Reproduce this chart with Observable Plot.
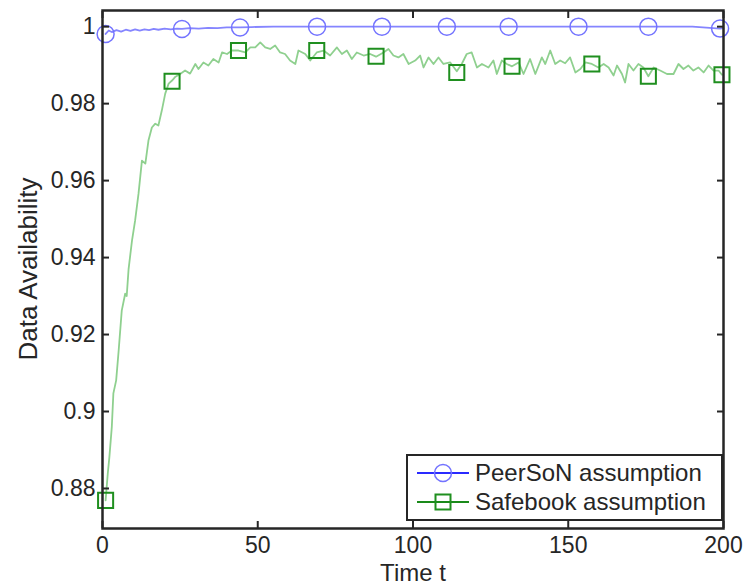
<!DOCTYPE html>
<html>
<head>
<meta charset="utf-8">
<script src="https://cdn.jsdelivr.net/npm/d3@7"></script>
<script src="https://cdn.jsdelivr.net/npm/@observablehq/plot@0.6"></script>
<style>
  html, body { margin: 0; padding: 0; background: #fff; }
  #chart { width: 744px; height: 587px; }
</style>
</head>
<body>
<div id="chart"></div>
<script>
// ---- Data ----
const safebookT = [1, 1.7, 2.2, 3, 3.5, 4.4, 5.2, 6.2, 7.3, 7.8, 8.4, 9.5, 10.5, 11.6, 12.7, 13.8, 14.8, 15.9, 17.0, 18.0, 19.1, 20.2, 21.3, 22.4, 23.5, 25.0, 26.6, 28.2, 29.9, 30.9, 32.5, 34.1, 35.7, 37.4, 38.5, 40.1, 41.7, 43.8, 46.0, 47.6, 49.2, 50.8, 52.4, 54.0, 55.6, 57.2, 58.8, 60.4, 62.1, 63.1, 65.3, 66.9, 69.0, 71.2, 73.3, 75.5, 77.1, 78.7, 80.3, 81.9, 84.1, 86.2, 88.1, 90.5, 92.1, 93.7, 95.3, 96.9, 98.6, 100.7, 102.3, 103.4, 105.0, 106.6, 108.2, 109.8, 112.0, 114.1, 115.7, 117.3, 118.9, 120.6, 122.2, 124.3, 125.9, 127.0, 128.6, 130.2, 131.9, 134.0, 135.6, 137.7, 139.4, 141.5, 142.6, 144.2, 145.8, 147.4, 149.0, 150.6, 152.3, 153.9, 155.5, 157.6, 159.7, 161.4, 163.0, 164.6, 165.7, 167.3, 168.3, 169.4, 171.0, 172.6, 174.2, 175.8, 177.5, 179.6, 181.8, 183.9, 185.5, 187.1, 188.7, 190.3, 191.9, 193.6, 195.2, 196.8, 198.4, 199.5];
const safebookV = [0.8769, 0.8839, 0.8880, 0.8960, 0.9047, 0.9081, 0.9158, 0.9262, 0.9306, 0.9300, 0.9370, 0.9444, 0.9496, 0.9566, 0.9652, 0.9644, 0.9704, 0.9738, 0.9748, 0.9743, 0.9782, 0.9826, 0.9852, 0.9860, 0.9870, 0.9877, 0.9886, 0.9878, 0.9903, 0.9890, 0.9907, 0.9899, 0.9916, 0.9907, 0.9933, 0.9929, 0.9938, 0.9938, 0.9933, 0.9946, 0.9946, 0.9959, 0.9946, 0.9942, 0.9951, 0.9933, 0.9929, 0.9912, 0.9903, 0.9938, 0.9929, 0.9912, 0.9933, 0.9938, 0.9925, 0.9946, 0.9929, 0.9938, 0.9916, 0.9933, 0.9925, 0.9929, 0.9922, 0.9933, 0.9942, 0.9925, 0.9920, 0.9929, 0.9903, 0.9912, 0.9925, 0.9894, 0.9920, 0.9903, 0.9920, 0.9903, 0.9907, 0.9884, 0.9903, 0.9929, 0.9933, 0.9894, 0.9903, 0.9894, 0.9912, 0.9877, 0.9912, 0.9903, 0.9897, 0.9907, 0.9877, 0.9916, 0.9877, 0.9920, 0.9903, 0.9938, 0.9903, 0.9912, 0.9905, 0.9920, 0.9881, 0.9890, 0.9907, 0.9903, 0.9894, 0.9903, 0.9894, 0.9873, 0.9899, 0.9877, 0.9855, 0.9903, 0.9886, 0.9903, 0.9894, 0.9871, 0.9894, 0.9886, 0.9877, 0.9877, 0.9903, 0.9890, 0.9899, 0.9886, 0.9894, 0.9881, 0.9899, 0.9886, 0.9886, 0.9875];

const peersonT = [1, 2, 3, 4.5, 6, 7.5, 9, 10.5, 12, 13.5, 15, 16.5, 18, 20, 22, 24, 25.6, 28, 31, 34, 37, 40, 44.3, 48, 55, 70, 100, 130, 160, 190, 198.9, 200];
const peersonV = [0.9981, 0.9990, 0.9986, 0.9991, 0.9987, 0.9992, 0.9989, 0.9993, 0.9990, 0.9993, 0.9991, 0.9994, 0.9992, 0.9995, 0.9993, 0.9995, 0.9994, 0.9996, 0.9995, 0.9997, 0.9996, 0.9998, 0.9998, 0.9999, 1.0, 1.0, 1.0, 1.0, 1.0, 1.0, 0.9995, 0.9996];

const peersonMarkT = [1, 25.6, 44.3, 69.1, 90.0, 110.9, 130.8, 153.3, 175.8, 198.9];
const peersonMarkV = [0.9981, 0.9994, 0.9998, 1.0, 1.0, 1.0, 1.0, 1.0, 1.0, 0.9995];
const safebookMarkT = [1, 22.4, 43.8, 69.0, 88.1, 114.1, 131.9, 157.6, 175.8, 199.5];
const safebookMarkV = [0.8769, 0.9858, 0.9938, 0.9938, 0.9923, 0.9881, 0.9897, 0.9903, 0.9871, 0.9875];

const xTicks = [0, 50, 100, 150, 200];
const yTicks = [0.88, 0.9, 0.92, 0.94, 0.96, 0.98, 1];
const yTickLabels = ["0.88", "0.9", "0.92", "0.94", "0.96", "0.98", "1"];
const seriesNames = ["PeerSoN assumption", "Safebook assumption"];
const xLabel = "Time t";
const yLabel = "Data Availability";

// ---- Build tables ----
const safebook = safebookT.map((t, i) => ({t, v: safebookV[i]}));
const peerson = peersonT.map((t, i) => ({t, v: peersonV[i]}));
const peersonMarks = peersonMarkT.map((t, i) => ({t, v: peersonMarkV[i]}));
const safebookMarks = safebookMarkT.map((t, i) => ({t, v: safebookMarkV[i]}));

const BLUE_LINE = "#8585ff";
const BLUE_MARK = "#7373ff";
const GREEN_LINE = "#8fd08f";
const GREEN_MARK = "#1f8f1f";
const AXIS = "#262626";
const FONT = "'Liberation Sans', Arial, Helvetica, sans-serif";

const yFmt = d => yTickLabels[yTicks.findIndex(v => Math.abs(v - d) < 1e-9)];

const chart = Plot.plot({
  width: 744,
  height: 587,
  marginLeft: 102,
  marginRight: 21,
  marginTop: 10,
  marginBottom: 59,
  style: {fontFamily: FONT, fontSize: "23px", color: AXIS, background: "#fff"},
  x: {domain: [0, 200]},
  y: {domain: [0.8696, 1.0042]},
  marks: [
    Plot.line(safebook, {x: "t", y: "v", stroke: GREEN_LINE, strokeWidth: 1.8}),
    Plot.line(peerson, {x: "t", y: "v", stroke: BLUE_LINE, strokeWidth: 1.8}),
    Plot.dot(peersonMarks, {x: "t", y: "v", r: 8.5, stroke: BLUE_MARK, strokeWidth: 1.5, fill: "none"}),
    Plot.dot(safebookMarks, {x: "t", y: "v", r: 8.5, symbol: "square", stroke: GREEN_MARK, strokeWidth: 2, fill: "none"}),
    Plot.axisX({anchor: "bottom", ticks: xTicks, tickSize: -7, tickPadding: 15, label: null, stroke: AXIS, strokeWidth: 2, fill: AXIS}),
    Plot.axisX({anchor: "top", ticks: xTicks, tickSize: -7, tickFormat: () => "", label: null, stroke: AXIS, strokeWidth: 2}),
    Plot.axisY({anchor: "left", ticks: yTicks, tickSize: -7, tickPadding: 14, tickFormat: yFmt, label: null, stroke: AXIS, strokeWidth: 2, fill: AXIS}),
    Plot.axisY({anchor: "right", ticks: yTicks, tickSize: -7, tickFormat: () => "", label: null, stroke: AXIS, strokeWidth: 2}),
    Plot.frame({stroke: AXIS, strokeWidth: 2.5})
  ]
});

document.getElementById("chart").appendChild(chart);

// ---- Axis titles and legend ----
const svg = d3.select(chart);
svg.append("text")
  .attr("x", 413).attr("y", 581)
  .attr("text-anchor", "middle")
  .attr("font-family", FONT).attr("font-size", 24).attr("fill", AXIS)
  .text(xLabel);
svg.append("text")
  .attr("transform", "translate(37,269) rotate(-90)")
  .attr("text-anchor", "middle")
  .attr("font-family", FONT).attr("font-size", 26).attr("fill", AXIS)
  .text(yLabel);

const lg = svg.append("g").attr("text-anchor", "start");
lg.append("rect")
  .attr("x", 407).attr("y", 455).attr("width", 315).attr("height", 65)
  .attr("fill", "#fff").attr("stroke", AXIS).attr("stroke-width", 2);
const rows = [
  {name: seriesNames[0], y: 473, line: "#2a2aff", mark: BLUE_MARK, sym: "circle"},
  {name: seriesNames[1], y: 502, line: "#1a8a1a", mark: GREEN_MARK, sym: "square"}
];
rows.forEach(r => {
  lg.append("line").attr("x1", 417).attr("x2", 469).attr("y1", r.y).attr("y2", r.y)
    .attr("stroke", r.line).attr("stroke-width", 1.8);
  if (r.sym === "circle") {
    lg.append("circle").attr("cx", 443).attr("cy", r.y).attr("r", 8.5)
      .attr("fill", "none").attr("stroke", r.mark).attr("stroke-width", 1.5);
  } else {
    lg.append("rect").attr("x", 435.5).attr("y", r.y - 7.5).attr("width", 15).attr("height", 15)
      .attr("fill", "none").attr("stroke", r.mark).attr("stroke-width", 2);
  }
  lg.append("text").attr("x", 475).attr("y", r.y).attr("dy", "0.35em")
    .attr("text-anchor", "start")
    .attr("font-family", FONT).attr("font-size", 24).attr("fill", AXIS)
    .text(r.name);
});
</script>
</body>
</html>
